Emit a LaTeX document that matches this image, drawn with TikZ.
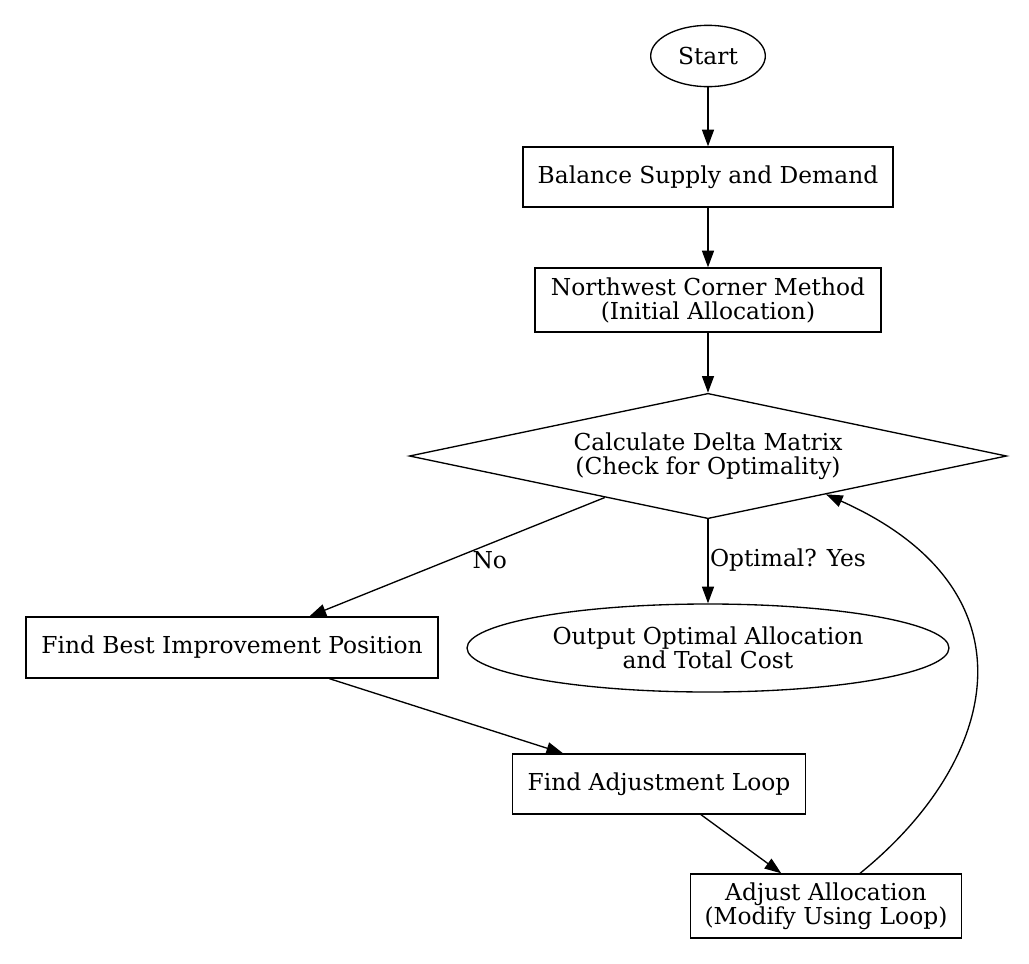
\documentclass[tikz,border=0pt]{standalone}
\usepackage{fontspec}
\setmainfont{DejaVu Serif}
\usetikzlibrary{arrows.meta,shapes.geometric}

\begin{document}
\begin{tikzpicture}[x=0.75pt,y=-0.75pt,
	every node/.style={font=\fontsize{17.5}{18}\selectfont},
	box/.style={draw, line width=1pt, inner sep=0pt, align=center},
	oval/.style={draw, ellipse, line width=1pt, inner sep=0pt, align=center},
	flow/.style={-{Triangle[length=12.5pt,width=9pt]}, line width=1pt}]
	\useasboundingbox (0,0) rectangle (1029,964);
	\node[oval, minimum width=86pt, minimum height=46pt] (start) at (708,56) {Start};
	\node[box, minimum width=277.5pt, minimum height=45pt] (balance) at (708,177) {Balance Supply and Demand};
	\node[box, minimum width=259.5pt, minimum height=48pt] (northwest) at (708,300) {Northwest Corner Method\\(Initial Allocation)};
	\node[box, diamond, shape aspect=4.78, minimum width=448pt, minimum height=94pt] (delta) at (708,456) {Calculate Delta Matrix\\(Check for Optimality)};
	\node[oval, minimum width=361.5pt, minimum height=66pt] (output) at (708,648) {Output Optimal Allocation\\and Total Cost};
	\node[box, minimum width=309pt, minimum height=45.75pt] (best) at (232,647.5) {Find Best Improvement Position};
	\node[box, minimum width=220pt, minimum height=45pt] (loop) at (659,784) {Find Adjustment Loop};
	\node[box, minimum width=203pt, minimum height=48pt] (adjust) at (826,906) {Adjust Allocation\\(Modify Using Loop)};

	\draw[flow] (start) -- (balance);
	\draw[flow] (balance) -- (northwest);
	\draw[flow] (northwest) -- (delta);
	\draw[flow] (delta) -- node[pos=0.48, anchor=west, inner sep=1pt] {Optimal? Yes} (output);
	\draw[flow] (delta) -- node[pos=0.45, anchor=north west, inner sep=0pt] {No} (best);
	\draw[flow] (best) -- (loop);
	\draw[flow] (loop) -- (adjust);
	\draw[flow] ([xshift=25.5pt]adjust.north) .. controls (1000,760) and (1040,590) .. (delta.-18);
\end{tikzpicture}
\end{document}
